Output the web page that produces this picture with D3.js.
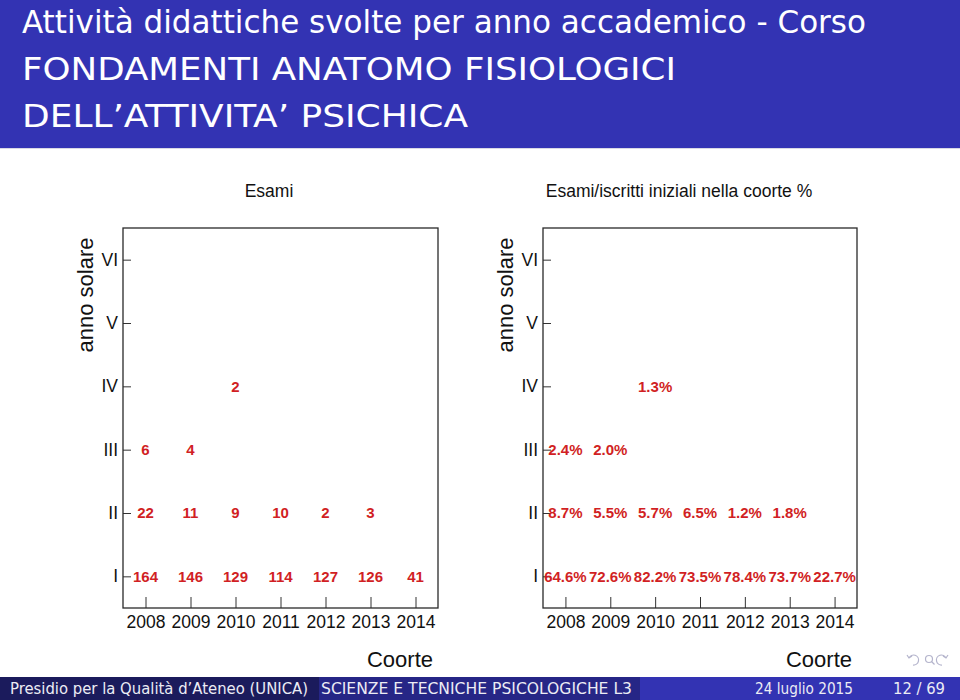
<!DOCTYPE html>
<html>
<head>
<meta charset="utf-8">
<script src="https://cdn.jsdelivr.net/npm/d3@7"></script>
<style>
  html, body { margin: 0; padding: 0; background: #fff; }
  svg { display: block; }
</style>
</head>
<body>
<svg id="chart" width="960" height="700"></svg>
<script>
// ---------- data ----------
const years = [2008, 2009, 2010, 2011, 2012, 2013, 2014];
const yearLevels = [1, 2, 3, 4, 5, 6];
const yearLevelLabels = ["I", "II", "III", "IV", "V", "VI"];

// Esami (counts) by cohort year, per solar year level
const esamiI   = [164, 146, 129, 114, 127, 126, 41];
const esamiII  = [22, 11, 9, 10, 2, 3];
const esamiIII = [6, 4];
const esamiIV  = [{year: 2010, value: 2}];

// Esami / iscritti iniziali nella coorte (%)
const pctI   = [64.6, 72.6, 82.2, 73.5, 78.4, 73.7, 22.7];
const pctII  = [8.7, 5.5, 5.7, 6.5, 1.2, 1.8];
const pctIII = [2.4, 2.0];
const pctIV  = [{year: 2010, value: 1.3}];

const titleLines = [
  "Attività didattiche svolte per anno accademico - Corso",
  "FONDAMENTI ANATOMO FISIOLOGICI",
  "DELL’ATTIVITA’ PSICHICA"
];
const footer = {
  author: "Presidio per la Qualità d’Ateneo  (UNICA)",
  title: "SCIENZE E TECNICHE PSICOLOGICHE L3",
  date: "24 luglio 2015",
  page: "12 / 69"
};

function cells(rowI, rowII, rowIII, rowIV) {
  const out = [];
  rowI.forEach((v, i) => out.push({year: years[i], level: 1, value: v}));
  rowII.forEach((v, i) => out.push({year: years[i], level: 2, value: v}));
  rowIII.forEach((v, i) => out.push({year: years[i], level: 3, value: v}));
  rowIV.forEach(d => out.push({year: d.year, level: 4, value: d.value}));
  return out;
}

// ---------- drawing ----------
const svg = d3.select("#chart");
const BLUE = "#3333B3";

// header band
svg.append("rect").attr("x", 0).attr("y", 0).attr("width", 960).attr("height", 148).attr("fill", BLUE);
svg.append("rect").attr("x", 0).attr("y", 148).attr("width", 960).attr("height", 1).attr("fill", "#d8d8e4");
const titleFont = "'Liberation Sans Narrow', 'DejaVu Sans Condensed', 'Liberation Sans', sans-serif";
const titleWidths = [844, 654, 446];
const titleBase = [33, 80, 127];
titleLines.forEach((t, i) => {
  svg.append("text")
    .attr("x", 22).attr("y", titleBase[i])
    .attr("fill", "#ffffff")
    .attr("font-family", titleFont)
    .attr("font-size", 32)
    .attr("textLength", titleWidths[i])
    .attr("lengthAdjust", "spacingAndGlyphs")
    .text(t);
});

// footer bands
const footSegs = [
  {x: 0, w: 319, fill: "#1b1b5c"},
  {x: 319, w: 321, fill: "#262686"},
  {x: 640, w: 320, fill: BLUE}
];
footSegs.forEach(s => svg.append("rect").attr("x", s.x).attr("y", 677).attr("width", s.w).attr("height", 23).attr("fill", s.fill));
const footFont = "'Liberation Sans Narrow', 'DejaVu Sans Condensed', 'Liberation Sans', sans-serif";
const footTexts = [
  {t: footer.author, x: 10, w: 298},
  {t: footer.title, x: 321, w: 311},
  {t: footer.date, x: 755, w: 98},
  {t: footer.page, x: 893, w: 52}
];
footTexts.forEach(f => {
  svg.append("text").attr("x", f.x).attr("y", 694)
    .attr("fill", "#ececf4")
    .attr("font-family", footFont).attr("font-size", 15)
    .attr("textLength", f.w).attr("lengthAdjust", "spacingAndGlyphs")
    .text(f.t);
});

// navigation symbols (decorative)
const nav = svg.append("g").attr("fill", "none").attr("stroke", "#b4b4cc").attr("stroke-width", 1.2);
nav.append("path").attr("d", "M913,665 a5,5 0 1,0 -4,-7 M907,655 l2,3 l3,-2");
nav.append("circle").attr("cx", 929).attr("cy", 659).attr("r", 3.5);
nav.append("path").attr("d", "M931.5,661.5 l3,3");
nav.append("path").attr("d", "M942,665 a5,5 0 1,1 4,-7 M948,655 l-2,3 l-3,-2");

// panels
const chartFont = "'Liberation Sans', Arial, Helvetica, sans-serif";
const RED = "#d11f24";

function panel(opts) {
  const left = opts.left, right = opts.right, top = 228, bottom = 608;
  const x = d3.scaleLinear().domain([2007.5, 2014.5]).range([left, right]);
  const y = d3.scaleLinear().domain([0.5, 6.5]).range([bottom, top]);
  const g = svg.append("g");

  // title
  g.append("text").attr("x", opts.titleX).attr("y", 197)
    .attr("text-anchor", "middle").attr("font-family", chartFont).attr("font-size", 17.5)
    .attr("fill", "#111").text(opts.title);

  // y axis
  const ya = g.append("g").attr("transform", `translate(${left},0)`)
    .call(d3.axisLeft(y).tickValues(yearLevels)
      .tickFormat(d => yearLevelLabels[d - 1])
      .tickSize(-8).tickPadding(5));
  ya.select(".domain").remove();
  ya.selectAll(".tick line").attr("stroke", "#333").attr("stroke-width", 1);
  ya.selectAll(".tick text").attr("font-family", chartFont).attr("font-size", 17.5).attr("fill", "#111");

  // x axis
  const xa = g.append("g").attr("transform", `translate(0,${bottom})`)
    .call(d3.axisBottom(x).tickValues(years).tickFormat(d3.format("d"))
      .tickSize(-11).tickPadding(8));
  xa.select(".domain").remove();
  xa.selectAll(".tick line").attr("stroke", "#333").attr("stroke-width", 1);
  xa.selectAll(".tick text").attr("font-family", chartFont).attr("font-size", 17.5).attr("fill", "#111");

  // frame
  g.append("rect").attr("x", left).attr("y", top).attr("width", right - left).attr("height", bottom - top)
    .attr("fill", "none").attr("stroke", "#2a2a2a").attr("stroke-width", 1.3);

  // axis titles
  g.append("text")
    .attr("transform", `translate(${left - 30},295) rotate(-90)`)
    .attr("text-anchor", "middle").attr("font-family", chartFont).attr("font-size", 22)
    .attr("fill", "#111").text("anno solare");
  g.append("text").attr("x", right - 5).attr("y", 667)
    .attr("text-anchor", "end").attr("font-family", chartFont).attr("font-size", 22)
    .attr("fill", "#111").text("Coorte");

  // value labels
  g.selectAll("text.val").data(opts.data).enter().append("text")
    .attr("class", "val")
    .attr("x", d => x(d.year)).attr("y", d => y(d.level))
    .attr("dy", "0.36em")
    .attr("text-anchor", "middle")
    .attr("font-family", chartFont).attr("font-weight", "bold").attr("font-size", 15)
    .attr("fill", RED)
    .text(d => opts.fmt(d.value));
}

panel({
  left: 123, right: 438, titleX: 269, title: "Esami",
  data: cells(esamiI, esamiII, esamiIII, esamiIV),
  fmt: d3.format("d")
});
panel({
  left: 543, right: 857, titleX: 679, title: "Esami/iscritti iniziali nella coorte %",
  data: cells(pctI, pctII, pctIII, pctIV),
  fmt: v => d3.format(".1f")(v) + "%"
});
</script>
</body>
</html>
